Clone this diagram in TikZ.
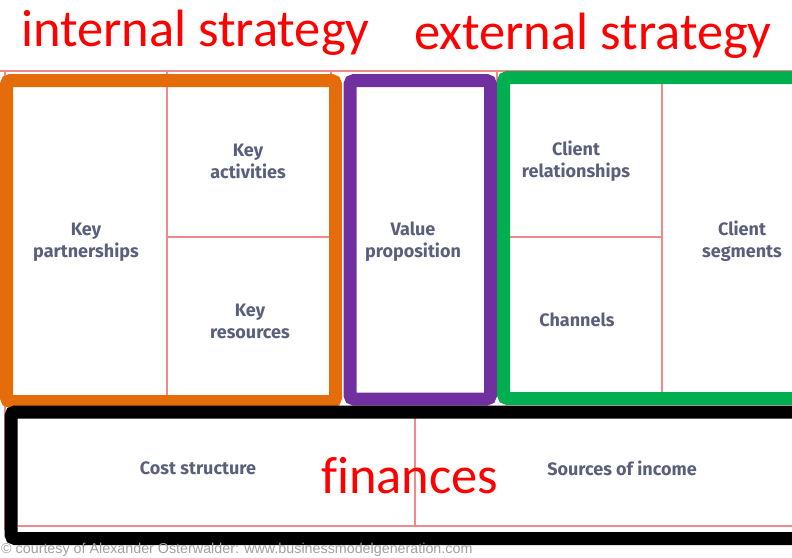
\documentclass[tikz,border=0pt]{standalone}
\usepackage{fontspec}
\setmainfont{Carlito}[Ligatures=NoCommon]
\newfontfamily\cellfont{Fira Sans}
\newfontfamily\notefont{Liberation Sans}

\definecolor{gridred}{HTML}{F08A8A}
\definecolor{boxorange}{HTML}{E46C0A}
\definecolor{boxpurple}{HTML}{7030A0}
\definecolor{boxgreen}{HTML}{00B050}
\definecolor{celltext}{HTML}{5A5F7C}

\tikzset{
  gridline/.style={gridred, line width=1.5pt},
  framebox/.style={line width=13pt, rounded corners=4pt},
  cell/.style={align=center, text=celltext, font=\cellfont\bfseries\fontsize{18}{22}\selectfont},
  heading/.style={text=red, font=\fontsize{52.5}{60}\selectfont, inner sep=0pt, anchor=base west}
}

\begin{document}
\begin{tikzpicture}[x=1pt, y=-1pt]
          \useasboundingbox (0,0) rectangle (792,557);
          \clip (0,0) rectangle (792,557);
          % the canvas grid
          \draw[gridline] (0,71) -- (792,71);
          \draw[gridline] (5,71) -- (5,530);
          \draw[gridline] (167,71) -- (167,396);
          \draw[gridline] (331,71) -- (331,396);
          \draw[gridline] (497,71) -- (497,396);
          \draw[gridline] (662,84) -- (662,392);
          \draw[gridline] (167,237) -- (331,237);
          \draw[gridline] (497,237) -- (662,237);
          \draw[gridline] (18,526) -- (792,526);
          \draw[gridline] (415,418) -- (415,526);
          % four coloured frames
          \draw[framebox, boxorange] (6.5,80.5) rectangle (335.5,401.5);
          \draw[framebox, boxpurple] (350,80.5) rectangle (490.5,399);
          \draw[framebox, boxgreen] (503.5,77.5) rectangle (810,398.5);
          \draw[framebox, black] (11,412) rectangle (810,538.5);
          % cell names
          \node[cell] (partners) at (86,242) {Key\\partnerships};
          \node[cell] (activities) at (248,161) {Key\\activities};
          \node[cell] (resources) at (250,321) {Key\\resources};
          \node[cell] (value) at (413,242) {Value\\proposition};
          \node[cell] (relations) at (576,161) {Client\\relationships};
          \node[cell] (channels) at (577,320) {Channels};
          \node[cell] (segments) at (742,241) {Client\\segments};
          \node[cell] (costs) at (198,468) {Cost structure};
          \node[cell] (income) at (622,468) {Sources of income};
          % headings
          \node[heading] (internal) at (21,46) {internal strategy};
          \node[heading] (external) at (414,49) {external strategy};
          \node[heading] (finances) at (321,493) {finances};
          \node[anchor=base west, inner sep=0pt, text=gray!75, font=\notefont\fontsize{14.3}{16}\selectfont] (note) at (1,553)
            {\textcopyright{} courtesy of Alexander Osterwalder: www.businessmodelgeneration.com};
        \end{tikzpicture}
\end{document}
